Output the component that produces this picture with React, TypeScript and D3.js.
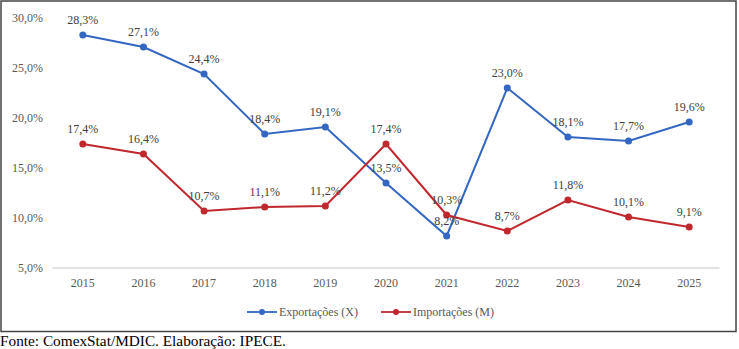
import React from "react";
import * as d3 from "d3";

const years = ["2015","2016","2017","2018","2019","2020","2021","2022","2023","2024","2025"];
const exportacoes = [28.3, 27.1, 24.4, 18.4, 19.1, 13.5, 8.2, 23.0, 18.1, 17.7, 19.6];
const importacoes = [17.4, 16.4, 10.7, 11.1, 11.2, 17.4, 10.3, 8.7, 11.8, 10.1, 9.1];
const yTicks = [5, 10, 15, 20, 25, 30];
const seriesNames = ["Exportações (X)", "Importações (M)"];
const colors = ["#3367c1", "#c0282e"];
const sourceText = "Fonte: ComexStat/MDIC. Elaboração: IPECE.";

const W = 739, H = 349;
const FONT = '"Liberation Serif", "Times New Roman", Times, serif';

const fmt = (v: number) => v.toFixed(1).replace(".", ",") + "%";

export default function App() {
  const x = d3.scaleBand<string>().domain(years).range([52.5, 719.5]).padding(0);
  const cx = (yr: string) => (x(yr) as number) + x.bandwidth() / 2;
  const y = d3.scaleLinear().domain([5, 30]).range([268, 18]);
  const line = d3.line<number>().x((_, i) => cx(years[i])).y((d) => y(d));
  const series = [exportacoes, importacoes];

  const legendItems = [
    { lx: 247, tx: 279 },
    { lx: 381, tx: 413 },
  ];
  const ts = { fontFamily: FONT };

  return (
    <svg width={W} height={H} style={{ position: "absolute", left: 0, top: 0, background: "#fff", fontFamily: FONT }}>
      <rect x={1} y={1} width={735} height={330.5} fill="#fff" stroke="#444" strokeWidth={1.5} />
      <line x1={x.range()[0]} x2={x.range()[1]} y1={y(5)} y2={y(5)} stroke="#d9d9d9" strokeWidth={1.5} />
      {yTicks.map((t) => (
        <text key={t} style={ts} x={43} y={y(t)} dy="0.35em" textAnchor="end" fontSize={12} fill="#595959">
          {fmt(t)}
        </text>
      ))}
      {years.map((yr) => (
        <text key={yr} style={ts} x={cx(yr)} y={283} dy="0.35em" textAnchor="middle" fontSize={12} fill="#595959">
          {yr}
        </text>
      ))}
      {series.map((s, si) => (
        <g key={si}>
          <path d={line(s) as string} fill="none" stroke={colors[si]} strokeWidth={2} />
          {s.map((v, i) => (
            <circle key={i} cx={cx(years[i])} cy={y(v)} r={3.5} fill={colors[si]} />
          ))}
        </g>
      ))}
      {series.map((s, si) => (
        <g key={"l" + si}>
          {s.map((v, i) => (
            <text key={i} style={ts} x={cx(years[i])} y={y(v) - 15} dy="0.35em" textAnchor="middle" fontSize={12} fill="#404040">
              {fmt(v)}
            </text>
          ))}
        </g>
      ))}
      {seriesNames.map((n, i) => (
        <g key={n}>
          <line x1={legendItems[i].lx} x2={legendItems[i].lx + 30} y1={312} y2={312} stroke={colors[i]} strokeWidth={1.8} />
          <circle cx={legendItems[i].lx + 15} cy={312} r={3} fill={colors[i]} />
          <text style={ts} x={legendItems[i].tx} y={312} dy="0.35em" fontSize={12} fill="#595959">{n}</text>
        </g>
      ))}
      <text style={ts} x={0} y={346} fontSize={15.3} fill="#000">{sourceText}</text>
    </svg>
  );
}
